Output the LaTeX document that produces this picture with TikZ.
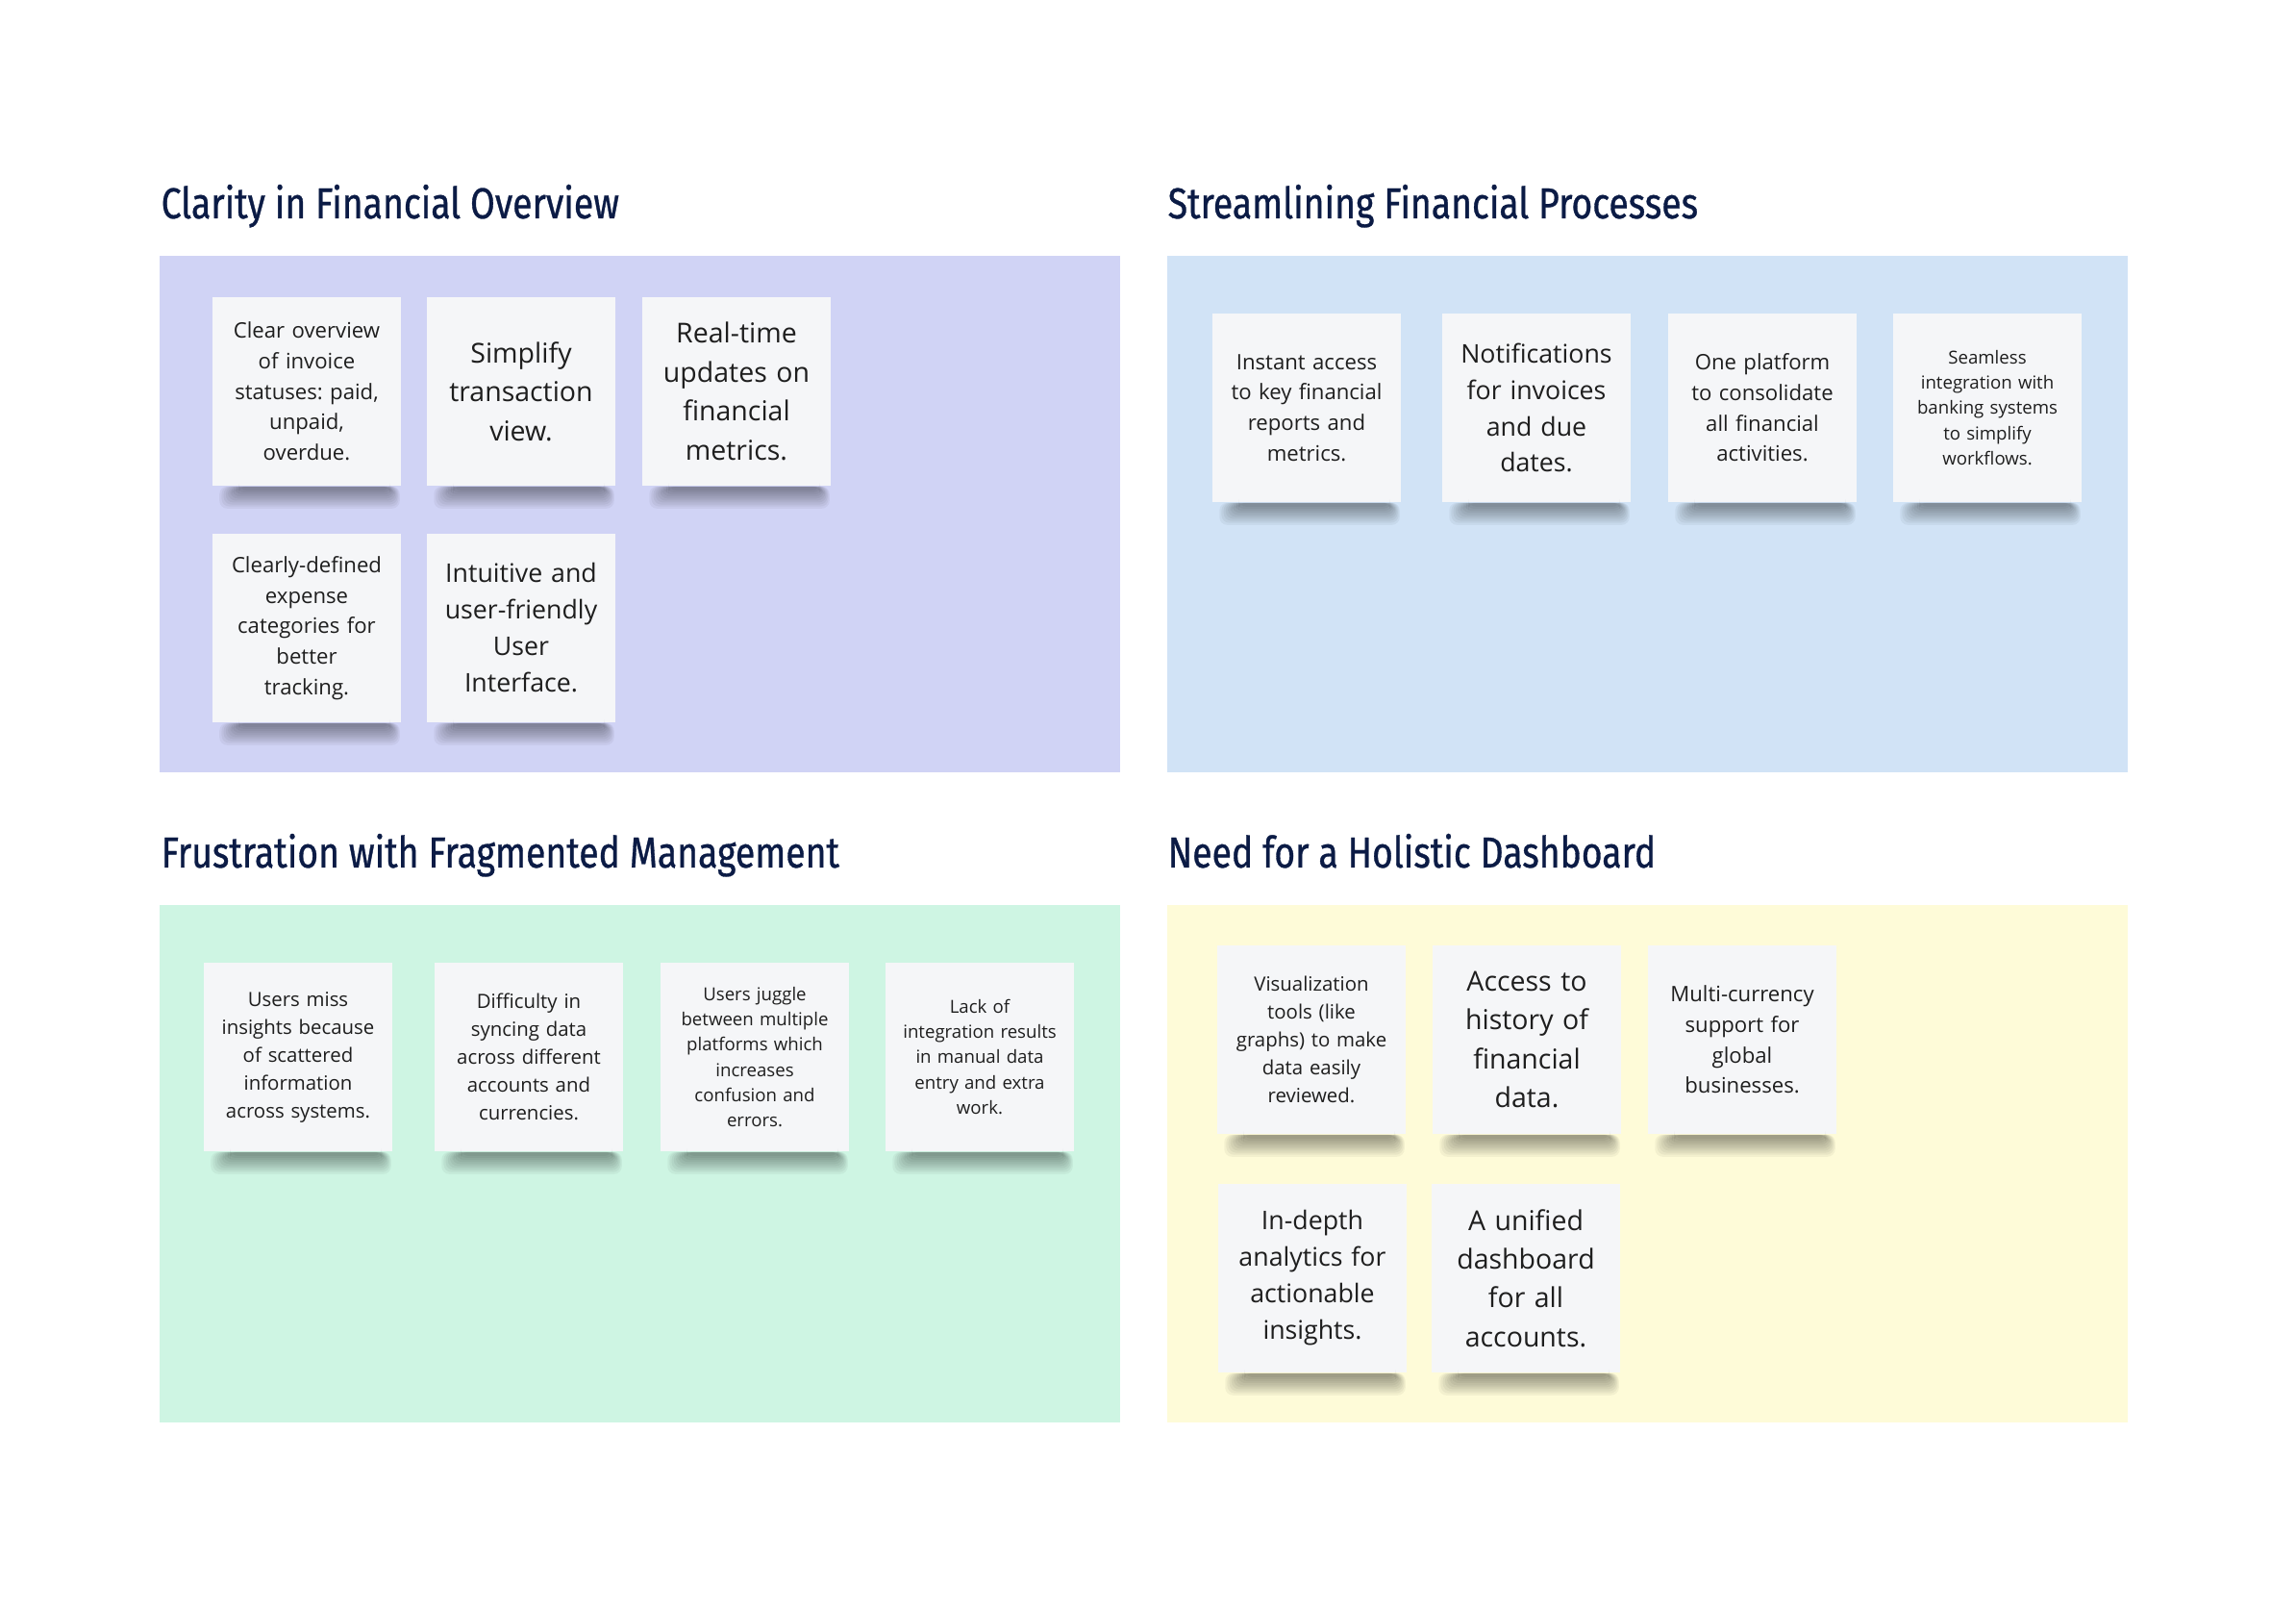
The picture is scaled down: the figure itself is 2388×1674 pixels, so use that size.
\documentclass[tikz,border=0pt]{standalone}
\usepackage{fontspec}
\setmainfont{Open Sans}
\newfontfamily\titlefont[FakeStretch=0.83,FakeBold=0.7]{Fira Sans}
\frenchspacing

\definecolor{titleblue}{HTML}{0B1B45}
\definecolor{notetext}{HTML}{1E1E1E}
\definecolor{notefill}{HTML}{F5F6F8}
\definecolor{lavender}{HTML}{D0D3F5}
\definecolor{skyblue}{HTML}{D1E3F6}
\definecolor{mint}{HTML}{CEF5E3}
\definecolor{cream}{HTML}{FEFBD8}

% text sizes on the notes, largest to smallest
\newcommand\sizeA{\fontsize{8.1pt}{11.5pt}\selectfont}
\newcommand\sizeB{\fontsize{7.6pt}{10.8pt}\selectfont}
\newcommand\sizeC{\fontsize{6.3pt}{9pt}\selectfont}
\newcommand\sizeD{\fontsize{5.8pt}{8.25pt}\selectfont}
\newcommand\sizeE{\fontsize{5.3pt}{7.5pt}\selectfont}

\def\notew{1.96cm}

\tikzset{
  heading/.style={anchor=base west,inner sep=0pt,text=titleblue,
    font=\titlefont\fontsize{12.8pt}{14pt}\selectfont},
  panel/.style={minimum width=9.99cm,minimum height=5.37cm,inner sep=0pt},
  note/.style={fill=notefill,minimum width=\notew,minimum height=\notew,
    inner sep=0pt,text width=1.85cm,align=center,text=notetext},
  curl/.style={black,opacity=0.045,rounded corners=0.08cm},
}

\begin{document}
\begin{tikzpicture}[x=0.01cm,y=-0.01cm]
  \useasboundingbox[fill=white] (0,0) rectangle (2388,1674);

  % panels
  \node[panel,fill=lavender] (clarity) at (665.5,534.5) {};
  \node[panel,fill=skyblue] (stream) at (1713.5,534.5) {};
  \node[panel,fill=mint] (frust) at (665.5,1210) {};
  \node[panel,fill=cream] (need) at (1713.5,1210) {};

  \node[heading] (clarityhead) at (167,227) {Clarity in Financial Overview};
  \node[heading] (streamhead) at (1214,227) {Streamlining Financial Processes};
  \node[heading] (frusthead) at (167,902) {Frustration with Fragmented Management};
  \node[heading] (needhead) at (1214,902) {Need for a Holistic Dashboard};

  % clarity
  \node[note,font=\sizeC] (c1) at (319,407) {Clear overview\\of invoice\\statuses: paid,\\unpaid,\\overdue.};
  \node[note,font=\sizeA] (c2) at (542,407) {Simplify\\transaction\\view.};
  \node[note,font=\sizeA] (c3) at (766,407) {Real-time\\updates on\\financial\\metrics.};
  \node[note,font=\sizeC] (c4) at (319,653) {Clearly-defined\\expense\\categories for\\better\\tracking.};
  \node[note,font=\sizeB] (c5) at (542,653) {Intuitive and\\user-friendly\\User\\Interface.};

  % streamlining
  \node[note,font=\sizeC] (s1) at (1359,424) {Instant access\\to key financial\\reports and\\metrics.};
  \node[note,font=\sizeB] (s2) at (1598,424) {Notifications\\for invoices\\and due\\dates.};
  \node[note,font=\sizeC] (s3) at (1833,424) {One platform\\to consolidate\\all financial\\activities.};
  \node[note,font=\sizeE] (s4) at (2067,424) {Seamless\\integration with\\banking systems\\to simplify\\workflows.};

  % frustration
  \node[note,font=\sizeD] (f1) at (310,1099) {Users miss\\insights because\\of scattered\\information\\across systems.};
  \node[note,font=\sizeD] (f2) at (550,1099) {Difficulty in\\syncing data\\across different\\accounts and\\currencies.};
  \node[note,font=\sizeE] (f3) at (785,1099) {Users juggle\\between multiple\\platforms which\\increases\\confusion and\\errors.};
  \node[note,font=\sizeE] (f4) at (1019,1099) {Lack of\\integration results\\in manual data\\entry and extra\\work.};

  % holistic dashboard
  \node[note,font=\sizeD] (h1) at (1364,1081) {Visualization\\tools (like\\graphs) to make\\data easily\\reviewed.};
  \node[note,font=\sizeA] (h2) at (1588,1081) {Access to\\history of\\financial\\data.};
  \node[note,font=\sizeC] (h3) at (1812,1081) {Multi-currency\\support for\\global\\businesses.};
  \node[note,font=\sizeB] (h4) at (1365,1329) {In-depth\\analytics for\\actionable\\insights.};
  \node[note,font=\sizeA] (h5) at (1587,1329) {A unified\\dashboard\\for all\\accounts.};

  % soft shadow under every note
  \foreach \n in {c1,c2,c3,c4,c5,s1,s2,s3,s4,f1,f2,f3,f4,h1,h2,h3,h4,h5}
    \foreach \k in {0,...,9}
      \fill[curl] ([xshift={0.08cm+\k*0.022cm}]\n.south west)
        rectangle ([xshift={-0.02cm-\k*0.011cm},yshift={-0.23cm+\k*0.021cm}]\n.south east);
\end{tikzpicture}
\end{document}
